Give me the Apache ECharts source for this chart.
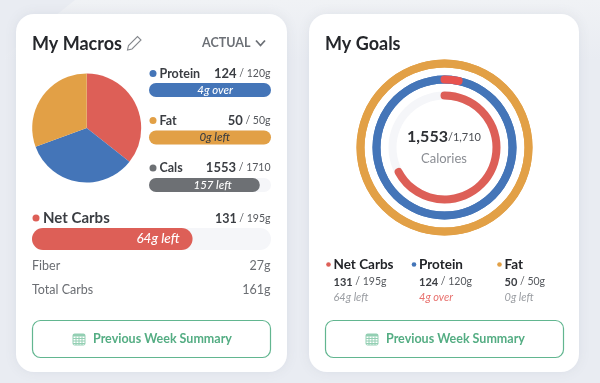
<!DOCTYPE html>
<html><head><meta charset="utf-8">
<style>html,body{margin:0;padding:0;background:#e9ecf2}#c{width:600px;height:383px}</style>
<script src="https://cdn.jsdelivr.net/npm/echarts@6/dist/echarts.min.js"></script>
</head><body><div id="c"></div>
<script>
const macroNames = ['Net Carbs', 'Protein', 'Fat'];
const macroColors = ['#dd5f57', '#4475b8', '#e2a046'];
const macroCalories = [524, 496, 450];
const macroActual = [131, 124, 50];
const macroGoal = [195, 120, 50];
const macroNote = ['64g left', '4g over', '0g left'];
const FONT = 'Lato';
const chart = echarts.init(document.getElementById('c'), null, {renderer: 'canvas'});

const barDefs = [
  {name: 'Protein', value: 124, goal: 120, note: '4g over', color: macroColors[1], left: 149, top: 83, h: 14, w: 122, dist: 38, fs: 11.5},
  {name: 'Fat', value: 50, goal: 50, note: '0g left', color: macroColors[2], left: 149, top: 130.5, h: 14, w: 122, dist: 41, fs: 11.5, tc: '#3a3d42'},
  {name: 'Cals', value: 1553, goal: 1710, note: '157 left', color: '#6d7074', left: 149, top: 178, h: 14, w: 122, dist: 28, fs: 11.5},
  {name: 'Net Carbs', value: 131, goal: 195, note: '64g left', color: macroColors[0], left: 32, top: 228, h: 22, w: 239, dist: 13, fs: 13.5}
];

const t = (x, y, text, o = {}) => ({type: 'text', x, y, silent: true, style: Object.assign({
  text, fontFamily: FONT, fontSize: 13, fontWeight: 400, fill: '#3a3d42', align: 'left', verticalAlign: 'middle'}, o)});
const pair = (x, y, a, b, fa, fb, align = 'right', ca = '#3a3d42', cb = '#55585d') => t(x, y, `{a|${a}}{b| / ${b}}`, {align, rich: {
  a: {fontFamily: FONT, fontSize: fa, fontWeight: 700, fill: ca},
  b: {fontFamily: FONT, fontSize: fb, fontWeight: 400, fill: cb}}});
const dot = (cx, cy, r, fill) => ({type: 'circle', silent: true, shape: {cx, cy, r}, style: {fill}});
const card = (x, w) => ({type: 'rect', silent: true, shape: {x, y: 14, width: w, height: 358, r: 18},
  style: {fill: '#fff', shadowColor: 'rgba(120,130,150,0.14)', shadowBlur: 12}});
const button = (x, tx) => {
  const ix = tx - 20, iy = 333, s = {stroke: '#93cfb3', lineWidth: 1, fill: 'none'};
  const lines = [];
  for (const d of [3, 6, 9]) lines.push({type: 'line', silent: true, shape: {x1: ix + d, y1: iy + 3.5, x2: ix + d, y2: iy + 12}, style: s});
  for (const d of [5.5, 8, 10.5]) lines.push({type: 'line', silent: true, shape: {x1: ix, y1: iy + d, x2: ix + 12, y2: iy + d}, style: s});
  return [
    {type: 'rect', silent: true, shape: {x: x + .5, y: 320.5, width: 238, height: 37, r: 8}, style: {fill: '#fff', stroke: '#62b690', lineWidth: 1.2}},
    {type: 'rect', silent: true, shape: {x: ix, y: iy + 1, width: 12, height: 11, r: 1.5}, style: s},
    {type: 'rect', silent: true, shape: {x: ix, y: iy + 1, width: 12, height: 2.5}, style: {fill: '#93cfb3'}},
    ...lines,
    t(tx, 339, 'Previous Week Summary', {fontSize: 12.5, fontWeight: 700, fill: '#54ad83'})
  ];
};

const graphic = [
  {type: 'polygon', silent: true, shape: {points: [[75, 0], [600, 0], [600, 60], [0, 60]]},
    style: {fill: {type: 'linear', x: 0, y: 0, x2: 0, y2: 1, colorStops: [{offset: 0, color: '#f0f2f5'}, {offset: 1, color: '#e9ecf2'}]}}},
  card(16, 271), card(309, 270),
  t(32, 44, 'My Macros', {fontSize: 18, fontWeight: 700, fill: '#25272b'}),
  {type: 'polygon', silent: true, shape: {points: [[127.5, 50], [128.5, 45.5], [137.5, 36.5], [141, 40], [132, 49]]}, style: {fill: 'none', stroke: '#85888d', lineWidth: 1.1}},
  t(202, 43, 'ACTUAL', {fontSize: 12.5, fontWeight: 700, fill: '#6c7076'}),
  {type: 'polyline', silent: true, shape: {points: [[256, 40.5], [260.5, 45.5], [265, 40.5]]}, style: {fill: 'none', stroke: '#6c7076', lineWidth: 1.8}},
  dot(153, 73.5, 3.5, macroColors[1]), t(159.5, 73.5, 'Protein', {fontSize: 12.5, fontWeight: 700}),
  pair(270.5, 73.5, '124', '120g', 13, 10.5),
  dot(153, 120.5, 3.5, macroColors[2]), t(159.5, 120.5, 'Fat', {fontSize: 12.5, fontWeight: 700}),
  pair(270.5, 120.5, '50', '50g', 13, 10.5),
  dot(153, 168, 3.5, '#6d7074'), t(159.5, 168, 'Cals', {fontSize: 12.5, fontWeight: 700}),
  pair(270.5, 168, '1553', '1710', 13, 10.5),
  dot(36, 218, 3.5, macroColors[0]), t(43, 218, 'Net Carbs', {fontSize: 15, fontWeight: 700}),
  pair(270.5, 219, '131', '195g', 12.5, 10.5),
  t(32, 265.5, 'Fiber', {fontSize: 12.5, fill: '#6b6e73'}), t(270.5, 265.5, '27g', {fontSize: 12.5, fill: '#6b6e73', align: 'right'}),
  t(32, 289.5, 'Total Carbs', {fontSize: 12.5, fill: '#6b6e73'}), t(270.5, 289.5, '161g', {fontSize: 12.5, fill: '#6b6e73', align: 'right'}),
  ...button(32, 93),
  t(325, 44, 'My Goals', {fontSize: 18, fontWeight: 700, fill: '#25272b'}),
  t(444, 137, `{a|1,553}{b|/1,710}`, {align: 'center', rich: {
    a: {fontFamily: FONT, fontSize: 16, fontWeight: 700, fill: '#2e3034'},
    b: {fontFamily: FONT, fontSize: 11, fill: '#4a4d52'}}}),
  t(444, 159, 'Calories', {fontSize: 13, fill: '#8b8e94', align: 'center'}),
  ...macroNames.flatMap((n, i) => {
    const dx = [328.5, 414, 499.5][i];
    return [
      dot(dx, 264.5, 2.3, macroColors[i]),
      t(dx + 5, 264.5, n, {fontSize: 13.5, fontWeight: 700, fill: '#222428'}),
      pair(dx + 5, 282, String(macroActual[i]), macroGoal[i] + 'g', 11, 10.5, 'left'),
      t(dx + 5, 297.5, macroNote[i], {fontSize: 11, fontStyle: 'italic', fill: i === 1 ? '#e8716e' : '#9a9da2'})
    ];
  }),
  ...button(325, 386)
];

const grids = [], xAxes = [], yAxes = [], series = [];
barDefs.forEach((b, i) => {
  grids.push({left: b.left, top: b.top, width: b.w, height: b.h});
  xAxes.push({type: 'value', gridIndex: i, show: false, min: 0, max: b.goal});
  yAxes.push({type: 'category', gridIndex: i, show: false, data: [b.name]});
  series.push({
    type: 'bar', xAxisIndex: i, yAxisIndex: i, barWidth: '100%', silent: true,
    showBackground: true, backgroundStyle: {color: '#f5f6f9', borderRadius: b.h / 2},
    itemStyle: {color: b.color, borderRadius: b.h / 2},
    label: {show: true, position: 'insideRight', distance: b.dist, formatter: b.note, color: b.tc || '#fff',
      fontFamily: FONT, fontStyle: 'italic', fontWeight: 500, fontSize: b.fs},
    data: [Math.min(b.value, b.goal)]
  });
});

series.push({
  type: 'pie', center: [86.7, 128], radius: [0, 54.5], startAngle: 90, silent: true,
  label: {show: false}, labelLine: {show: false},
  data: macroNames.map((n, i) => ({name: n, value: macroCalories[i], itemStyle: {color: macroColors[i]}}))
});

// Rings are gauges: the axis line is the track, the progress arc is the value.
const ring = (radius, max, value, fill, track) => ({
  type: 'gauge', center: [444.5, 147.5], radius, min: 0, max, startAngle: 90, endAngle: -270, clockwise: true, silent: true, z: 3,
  axisLine: {show: !!track, roundCap: false, lineStyle: {width: 8, color: [[1, track || 'transparent']]}},
  progress: {show: true, width: 8, roundCap: true, clip: false, itemStyle: {color: fill}},
  axisTick: {show: false}, splitLine: {show: false}, axisLabel: {show: false}, pointer: {show: false},
  anchor: {show: false}, title: {show: false}, detail: {show: false},
  data: [{value}]
});
series.push(
  ring(56, macroGoal[0], macroActual[0], macroColors[0], '#f5f6f9'),
  ring(72, macroGoal[1], macroGoal[1], macroColors[1], macroColors[1]),
  ring(72, macroGoal[1], macroActual[1] - macroGoal[1], '#e8534f', null),
  ring(88, macroGoal[2], macroActual[2], macroColors[2], macroColors[2])
);

chart.setOption({
  animation: false,
  backgroundColor: '#e9ecf2',
  grid: grids, xAxis: xAxes, yAxis: yAxes,
  graphic: {elements: graphic},
  series
});
</script></body></html>
